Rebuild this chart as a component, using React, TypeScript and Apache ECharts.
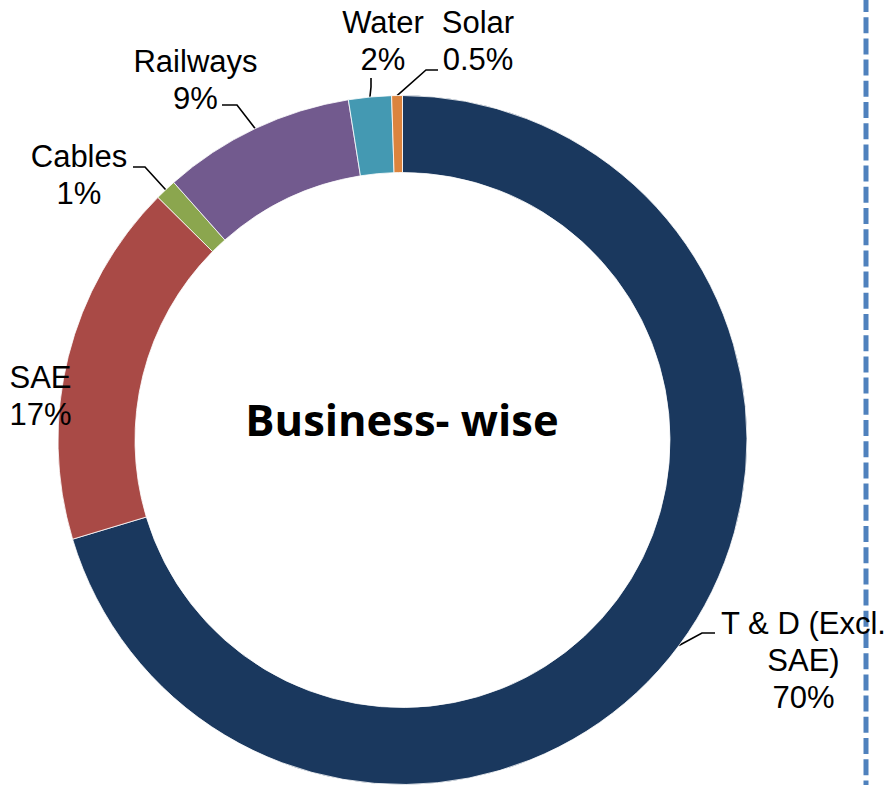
import React, { useEffect, useRef } from 'react';
import * as echarts from 'echarts';

// ---- data ----
const categories = ['T & D (Excl. SAE)', 'SAE', 'Cables', 'Railways', 'Water', 'Solar'];
const shares = [70, 17, 1, 9, 2, 0.5];
const sliceColors = ['#1A385E', '#A94A46', '#8BA64E', '#725A8E', '#4499B2', '#DB843E'];
const centerTitle = 'Business- wise';

// ---- label layout (label block centre + leader-line bends) ----
const labelBoxes: { x: number; y: number; bend: number[][] | null }[] = [
  { x: 803.5, y: 660, bend: [[702, 633], [715, 633]] },
  { x: 40.5, y: 396, bend: null },
  { x: 79, y: 175, bend: [[145, 167], [133, 167]] },
  { x: 195.5, y: 80, bend: [[237, 105], [222, 105]] },
  { x: 383, y: 41, bend: [[371, 87], [371, 78]] },
  { x: 478, y: 41, bend: [[426, 70], [438, 70]] },
];

const LABEL_FONT = '"Liberation Sans", Arial, sans-serif';

export default function App() {
  const ref = useRef<HTMLDivElement>(null);

  useEffect(() => {
    if (!ref.current) return;
    const chart = echarts.init(ref.current, undefined, { renderer: 'svg' });

    const data = categories.map((name, i) => ({
      name,
      value: shares[i],
      itemStyle: { color: sliceColors[i] },
      labelLine: { show: labelBoxes[i].bend !== null },
    }));

    chart.setOption({
      animation: false,
      backgroundColor: '#ffffff',
      series: [
        {
          type: 'pie',
          center: [402.5, 440],
          radius: [267.5, 344.5],
          startAngle: 90,
          clockwise: true,
          avoidLabelOverlap: false,
          silent: true,
          emphasis: { disabled: true },
          itemStyle: { borderColor: '#ffffff', borderWidth: 0.8 },
          label: {
            show: true,
            position: 'outside',
            color: '#000000',
            fontFamily: LABEL_FONT,
            fontSize: 31,
            lineHeight: 37,
            align: 'center',
            formatter: (p: any) =>
              String(p.name).replace('Excl. ', 'Excl.\n') + '\n' + p.value + '%',
          },
          labelLine: {
            show: true,
            length: 10,
            length2: 10,
            smooth: false,
            lineStyle: { color: '#000000', width: 1.6 },
          },
          labelLayout: (params: any) => {
            const b = labelBoxes[params.dataIndex];
            const p0 = params.labelLinePoints && params.labelLinePoints[0];
            const out: any = {
              x: b.x,
              y: b.y,
              align: 'center',
              verticalAlign: 'middle',
            };
            if (b.bend && p0) {
              out.labelLinePoints = [[p0[0], p0[1]], ...b.bend];
            }
            return out;
          },
          data,
        },
      ],
      graphic: [
        {
          type: 'line',
          z: 1,
          shape: { x1: 866, y1: -4, x2: 866, y2: 792 },
          style: { stroke: '#4F81BD', lineWidth: 5, lineDash: [16, 5.2] },
        },
        {
          type: 'text',
          x: 402,
          y: 419,
          z: 10,
          style: {
            text: centerTitle,
            fill: '#000000',
            font: 'bold 43.5px "Open Sans", Lato, sans-serif',
            align: 'center',
            verticalAlign: 'middle',
          },
        },
      ],
    });

    return () => {
      chart.dispose();
    };
  }, []);

  return (
    <div
      ref={ref}
      style={{ position: 'fixed', left: 0, top: 0, width: 887, height: 785, background: '#fff' }}
    />
  );
}
